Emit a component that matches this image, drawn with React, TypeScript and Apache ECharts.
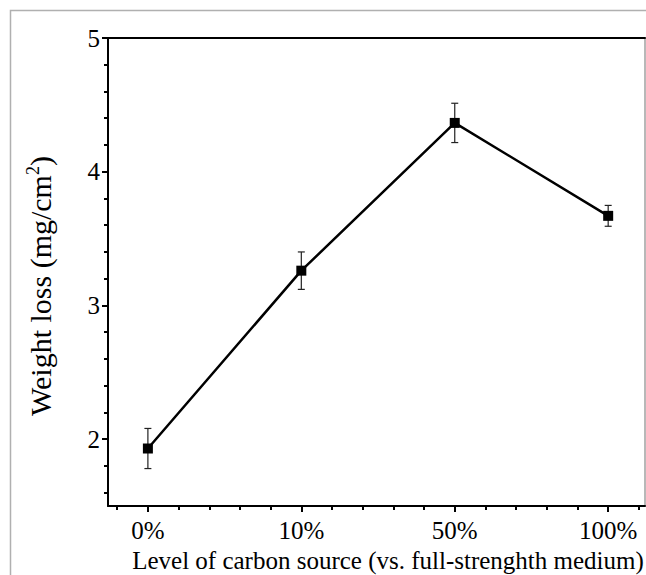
import React, { useEffect, useRef } from "react";
import * as echarts from "echarts";

const categories = ["0%", "10%", "50%", "100%"];
const xPositions = [0, 1, 2, 3];
const weightLoss = [1.93, 3.26, 4.365, 3.67];
const errorSD = [0.15, 0.14, 0.147, 0.078];
const yMajorMin = 2;
const yMajorMax = 5;
const yMinorMin = 1.6;
const xMinorMin = -0.2;
const xMinorMax = 3.2;
const xMin = -0.26;
const xMax = 3.24;
const yMin = 1.5;
const yMax = 5;

const W = 646;
const H = 575;
const PL = 108;
const PR = 645;
const PT = 38;
const PB = 506;

const FONT = "'Liberation Serif', 'Times New Roman', serif";

const px = (v: number) => PL + ((v - xMin) / (xMax - xMin)) * (PR - PL);
const py = (v: number) => PB - ((v - yMin) / (yMax - yMin)) * (PB - PT);

export default function App() {
  const ref = useRef<HTMLDivElement>(null);
  useEffect(() => {
    if (!ref.current) return;
    const chart = echarts.init(ref.current, null, { renderer: "svg" });
    const lineData = xPositions.map((x, i) => [x, weightLoss[i]]);
    const errData = xPositions.map((x, i) => [x, weightLoss[i] - errorSD[i], weightLoss[i] + errorSD[i]]);
    const axisLineStyle = { color: "#000", width: 2 };
    const tickStyle = { color: "#000", width: 2 };
    const hidden = (gridIndex: number) => ({ type: "value", gridIndex, show: false });
    const g = (left: number, right: number, top: number, bottom: number) => ({
      left,
      right,
      top,
      bottom,
      containLabel: false,
      outerBoundsMode: "none",
    });
    chart.setOption({
      animation: false,
      backgroundColor: "#fff",
      grid: [
        g(PL, W - PR, PT, H - PB),
        g(px(0), W - px(3), PT, H - PB),
        g(px(xMinorMin), W - px(xMinorMax), PT, H - PB),
        g(PL, W - PR, py(yMajorMax), H - py(yMajorMin)),
        g(PL, W - PR, py(yMajorMax), H - py(yMinorMin)),
      ],
      graphic: [
        {
          type: "rect",
          shape: { x: 10.5, y: 10.5, width: 800, height: 800 },
          style: { fill: "none", stroke: "#b0b0b0", lineWidth: 1.5 },
          silent: true,
        },
      ],
      xAxis: [
        {
          type: "value",
          gridIndex: 0,
          position: "bottom",
          min: xMin,
          max: xMax,
          splitLine: { show: false },
          axisLine: { show: true, onZero: false, lineStyle: axisLineStyle },
          axisTick: { show: false },
          axisLabel: { show: false },
          name: "Level of carbon source (vs. full-strenghth medium)",
          nameLocation: "middle",
          nameGap: 42,
          nameTextStyle: { color: "#000", fontFamily: FONT, fontSize: 25, padding: [0, 0, 0, 23] },
        },
        {
          type: "value",
          gridIndex: 0,
          position: "top",
          min: xMin,
          max: xMax,
          splitLine: { show: false },
          axisLine: { show: true, onZero: false, lineStyle: axisLineStyle },
          axisTick: { show: false },
          axisLabel: { show: false },
        },
        {
          type: "value",
          gridIndex: 1,
          position: "bottom",
          min: 0,
          max: 3,
          interval: 1,
          splitLine: { show: false },
          axisLine: { show: false, onZero: false },
          axisTick: { show: true, length: 6, lineStyle: tickStyle },
          axisLabel: {
            formatter: (v: number) => categories[Math.round(v)],
            color: "#000",
            fontFamily: FONT,
            fontSize: 25,
            margin: 12,
          },
        },
        {
          type: "value",
          gridIndex: 2,
          position: "bottom",
          min: xMinorMin,
          max: xMinorMax,
          interval: 0.2,
          splitLine: { show: false },
          axisLine: { show: false, onZero: false },
          axisTick: { show: true, length: 4, lineStyle: tickStyle },
          axisLabel: { show: false },
        },
        hidden(3),
        hidden(4),
      ],
      yAxis: [
        {
          type: "value",
          gridIndex: 0,
          position: "left",
          min: yMin,
          max: yMax,
          splitLine: { show: false },
          axisLine: { show: true, onZero: false, lineStyle: axisLineStyle },
          axisTick: { show: false },
          axisLabel: { show: false },
          name: "Weight loss (mg/cm{sup|2})",
          nameLocation: "middle",
          nameGap: 52,
          nameRotate: 90,
          nameTextStyle: {
            color: "#000",
            fontFamily: FONT,
            fontSize: 30,
            padding: [0, 28, 0, 0],
            rich: {
              sup: { fontFamily: FONT, fontSize: 18, verticalAlign: "top", padding: [0, 0, 14, 0] },
            },
          },
        },
        {
          type: "value",
          gridIndex: 0,
          position: "right",
          min: yMin,
          max: yMax,
          splitLine: { show: false },
          axisLine: { show: true, onZero: false, lineStyle: { color: "#a0a0a0", width: 1.5 } },
          axisTick: { show: false },
          axisLabel: { show: false },
        },
        hidden(1),
        hidden(2),
        {
          type: "value",
          gridIndex: 3,
          position: "left",
          min: yMajorMin,
          max: yMajorMax,
          interval: 1,
          splitLine: { show: false },
          axisLine: { show: false, onZero: false },
          axisTick: { show: true, length: 6, lineStyle: tickStyle },
          axisLabel: { color: "#000", fontFamily: FONT, fontSize: 25, margin: 8 },
        },
        {
          type: "value",
          gridIndex: 4,
          position: "left",
          min: yMinorMin,
          max: yMajorMax,
          interval: 0.2,
          splitLine: { show: false },
          axisLine: { show: false, onZero: false },
          axisTick: { show: true, length: 4, lineStyle: tickStyle },
          axisLabel: { show: false },
        },
      ],
      series: [
        {
          type: "custom",
          xAxisIndex: 0,
          yAxisIndex: 0,
          z: 1,
          data: errData,
          renderItem: (params: any, api: any) => {
            const x = api.value(0);
            const lo = api.coord([x, api.value(1)]);
            const hi = api.coord([x, api.value(2)]);
            const hw = 3.5;
            const style = { stroke: "#222", lineWidth: 1.2 };
            return {
              type: "group",
              children: [
                { type: "line", shape: { x1: lo[0], y1: lo[1], x2: hi[0], y2: hi[1] }, style },
                { type: "line", shape: { x1: lo[0] - hw, y1: lo[1], x2: lo[0] + hw, y2: lo[1] }, style },
                { type: "line", shape: { x1: hi[0] - hw, y1: hi[1], x2: hi[0] + hw, y2: hi[1] }, style },
              ],
            };
          },
        },
        {
          type: "line",
          xAxisIndex: 0,
          yAxisIndex: 0,
          z: 3,
          data: lineData,
          symbol: "rect",
          symbolSize: 10,
          itemStyle: { color: "#000" },
          lineStyle: { color: "#000", width: 2.5 },
        },
      ],
    });
    return () => chart.dispose();
  }, []);
  return (
    <div
      ref={ref}
      style={{ position: "fixed", left: 0, top: 0, width: W, height: H, background: "#fff" }}
    />
  );
}
